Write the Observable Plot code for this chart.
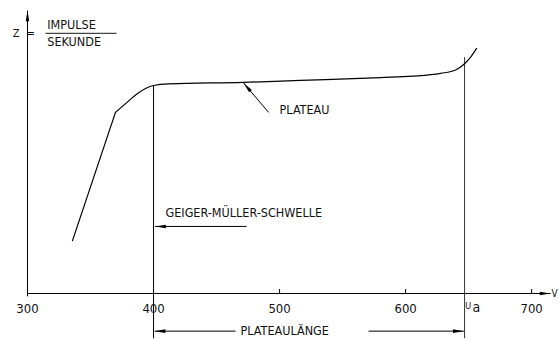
<!DOCTYPE html>
<html><head><meta charset="utf-8">
<script src="https://cdn.jsdelivr.net/npm/d3@7"></script>
<script src="https://cdn.jsdelivr.net/npm/@observablehq/plot@0.6"></script>
<style>
body{margin:0;background:#fff;}
#chart svg{font-family:"Liberation Sans Narrow","DejaVu Sans Condensed","DejaVu Sans",sans-serif;}
</style></head><body><div id="chart"></div>
<script>
// Counting-rate characteristic of a Geiger–Müller tube
const riseVolts = [335.7, 369.8];
const riseCounts = [18.7, 64.0];
const plateauVolts = [369.8, 377.8, 387.3, 400, 411.9, 471.4, 516.7, 580.2, 605.6, 627.8, 639.7, 646.8, 651.6, 656.3];
const plateauCounts = [64.0, 67.1, 70.7, 73.5, 74.1, 74.6, 75.3, 76.3, 76.8, 77.8, 79.0, 81.2, 83.5, 86.6];
const xTickLabels = [300, 400, 500, 600, 700];
const xTickMarks = [400, 500, 600, 700];
const thresholdVolt = 400;
const thresholdCount = 73.5;
const uaVolt = 646.8;
const uaTop = 83.4;
const lineBottom = -16;

const xDomain = [300, 711];
const yDomain = [0, 100];
const W = 560, H = 340, mL = 27, mR = 15, mT = 10, mB = 47;
const kx = (W - mL - mR) / (xDomain[1] - xDomain[0]);
const ky = (H - mT - mB) / (yDomain[1] - yDomain[0]);

const rise = riseVolts.map((v, i) => ({v, c: riseCounts[i]}));
const plateau = plateauVolts.map((v, i) => ({v, c: plateauCounts[i]}));

// annotation arrows (tip at x2,y2)
const axisArrows = [
  {x1: 300, y1: 0, x2: 715, y2: 0},
  {x1: 300, y1: -1, x2: 300, y2: 100}
];
const arrows = [
  {x1: 491.3, y1: 64.0, x2: 471.4, y2: 74.4},
  {x1: 473.8, y1: 23.7, x2: 401.2, y2: 23.7},
  {x1: 465.1, y1: -13.3, x2: 400.9, y2: -13.3},
  {x1: 570.6, y1: -13.3, x2: 646.2, y2: -13.3}
];
const labels = [
  {x: 500.0, y: 64.7, text: "PLATEAU"},
  {x: 409.5, y: 28.3, text: "GEIGER-MÜLLER-SCHWELLE"},
  {x: 469.0, y: -13.1, text: "PLATEAULÄNGE"},
  {x: 315.7, y: 95.0, text: "IMPULSE"},
  {x: 315.7, y: 88.7, text: "SEKUNDE"}
];

function angleOf(a) {
  return Math.atan2(-(a.y2 - a.y1) * ky, (a.x2 - a.x1) * kx);
}
function headSymbol(ang) {
  return {draw(context, size) {
    const r = Math.sqrt(size / Math.PI);
    const L = r * 2.7, Wd = r * 0.45;
    const c = Math.cos(ang), s = Math.sin(ang);
    const bx = -L * c, by = -L * s;
    context.moveTo(0, 0);
    context.lineTo(bx - Wd * s, by + Wd * c);
    context.lineTo(bx + Wd * s, by - Wd * c);
    context.closePath();
  }};
}
const allArrows = [...axisArrows, ...arrows];
const headMarks = allArrows.map(a => Plot.dot([a], {x: "x2", y: "y2", r: 4, symbol: headSymbol(angleOf(a)), fill: "black", stroke: "none"}));

const chart = Plot.plot({
  width: W, height: H,
  marginLeft: mL, marginRight: mR, marginTop: mT, marginBottom: mB,
  x: {domain: xDomain, axis: null},
  y: {domain: yDomain, axis: null},
  marks: [
    Plot.link(allArrows, {x1: "x1", y1: "y1", x2: "x2", y2: "y2", stroke: "black", strokeWidth: 1}),
    Plot.ruleX(xTickMarks, {y1: 0, y2: 1.4, stroke: "black"}),
    Plot.text(xTickLabels, {x: d => d, y: 0, dy: 15, text: d => String(d), fontSize: 13, fill: "#111"}),
    Plot.ruleX([thresholdVolt], {y1: lineBottom, y2: thresholdCount, stroke: "black", strokeWidth: 1}),
    Plot.ruleX([uaVolt], {y1: lineBottom, y2: uaTop, stroke: "#333", strokeWidth: 1}),
    Plot.line(rise, {x: "v", y: "c", stroke: "black", strokeWidth: 1.2}),
    Plot.line(plateau, {x: "v", y: "c", curve: "monotone-x", stroke: "black", strokeWidth: 1.2}),
    ...headMarks,
    Plot.text(labels, {x: "x", y: "y", text: "text", textAnchor: "start", fontSize: 12.5, fill: "#111"}),
    Plot.link([{x1: 314.3, x2: 370.6, y: 91.9}], {x1: "x1", x2: "x2", y1: "y", y2: "y", stroke: "#444", strokeWidth: 1.2}),
    Plot.text(["Z"], {x: 290.9, y: 91.9, text: d => d, fontSize: 11, fill: "#111"}),
    Plot.text(["="], {x: 302.4, y: 91.9, text: d => d, fontSize: 12, fill: "#111"}),
    Plot.text(["U"], {x: 647.4, y: -4.4, text: d => d, textAnchor: "start", fontSize: 9, fill: "#111"}),
    Plot.text(["a"], {x: 653.0, y: -5.1, text: d => d, textAnchor: "start", fontSize: 14, fill: "#111"}),
    Plot.text(["V"], {x: 715.8, y: 0, text: d => d, textAnchor: "start", fontSize: 10, fill: "#111"})
  ]
});
document.getElementById("chart").appendChild(chart);
</script></body></html>
